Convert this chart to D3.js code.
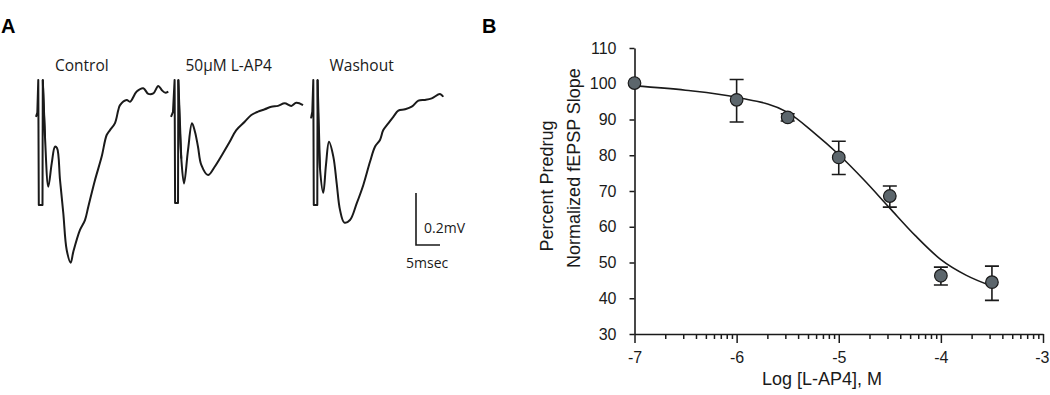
<!DOCTYPE html>
<html>
<head>
<meta charset="utf-8">
<script src="https://cdn.jsdelivr.net/npm/d3@7"></script>
<style>
  body { margin: 0; background: #fff; }
  svg { display: block; }
</style>
</head>
<body>
<div id="chart"></div>
<script>
// ---- panel A: field EPSP traces (time in ms from stimulus, voltage in mV from baseline)
// first 6 points of each trace are the stimulus artifact
var traceNames = ["Control", "50\u03bcM L-AP4", "Washout"];

var tControl = [-0.63, -0.35, -0.15, -0.04, 0.73, 0.79, 1.25, 1.94, 2.65, 3.33, 3.75, 4.38, 5.06, 5.77, 6.60, 7.15, 8.54, 9.58, 10.27, 11.67, 13.06, 14.10, 14.79, 15.83, 16.52, 16.88, 18.27, 18.96, 20.35, 21.73, 22.77, 23.81, 24.85, 25.56, 26.25, 26.94];
var vControl = [-0.007, 0.009, 0.135, -0.346, -0.346, 0.135, -0.085, -0.276, -0.186, -0.122, -0.127, -0.250, -0.377, -0.519, -0.568, -0.526, -0.442, -0.404, -0.353, -0.250, -0.160, -0.077, -0.058, -0.031, 0.019, 0.038, 0.058, 0.051, 0.090, 0.103, 0.081, 0.083, 0.112, 0.096, 0.086, 0.090];

var tDrug = [-0.83, -0.42, -0.08, 0.02, 0.63, 0.69, 1.31, 1.88, 2.71, 3.54, 4.17, 4.79, 5.48, 6.88, 8.27, 10.00, 11.40, 12.77, 14.52, 15.90, 17.29, 18.69, 20.06, 21.46, 22.85, 24.23, 25.27, 26.67];
var vDrug = [-0.007, 0.012, 0.135, -0.338, -0.338, 0.135, -0.167, -0.263, -0.135, -0.032, -0.065, -0.122, -0.192, -0.231, -0.199, -0.147, -0.103, -0.058, -0.026, 0.000, 0.013, 0.022, 0.032, 0.035, 0.045, 0.035, 0.047, 0.038];

var tWash = [-0.52, -0.25, -0.04, 0.06, 0.79, 0.85, 1.35, 2.04, 2.60, 3.23, 4.13, 4.83, 5.52, 6.42, 7.60, 9.00, 10.38, 11.77, 12.81, 13.85, 14.54, 15.58, 16.63, 17.67, 19.06, 20.46, 21.85, 23.23, 24.63, 26.35, 27.04];
var vWash = [-0.013, 0.013, 0.135, -0.346, -0.346, 0.135, -0.205, -0.299, -0.192, -0.103, -0.160, -0.263, -0.365, -0.414, -0.404, -0.340, -0.269, -0.180, -0.122, -0.096, -0.058, -0.032, -0.007, 0.017, 0.022, 0.032, 0.055, 0.058, 0.064, 0.081, 0.070];

var artifactPts = 6;
var scaleBarMV = 0.2;
var scaleBarMs = 5;

// ---- panel B: concentration-response
var logConc = [-7, -6, -5.5, -5, -4.5, -4, -3.5];
var slopePct = [100.2, 95.5, 90.6, 79.4, 68.6, 46.3, 44.5];
var errLow = [100.2, 89.3, 89.6, 74.6, 65.5, 43.7, 39.4];
var errHigh = [100.2, 101.2, 91.6, 83.9, 71.4, 48.7, 49.0];

// fitted curve
var fitLog = [-7, -6.5, -6, -5.5, -5.25, -5, -4.75, -4.5, -4.25, -4, -3.75, -3.5];
var fitPct = [99.4, 98.2, 96.2, 92.0, 86.5, 80.2, 73.0, 65.2, 57.5, 50.8, 46.4, 43.4];

var xTickVals = [-7, -6, -5, -4, -3];
var yTickVals = [30, 40, 50, 60, 70, 80, 90, 100, 110];

var width = 1050, height = 395;

var svg = d3.select("#chart").append("svg")
    .attr("width", width)
    .attr("height", height);

svg.append("rect").attr("width", width).attr("height", height).attr("fill", "#fff");

// panel letters
svg.append("text").attr("x", 1).attr("y", 33)
    .style("font-family", "Liberation Sans, Arial, sans-serif")
    .style("font-weight", "bold").style("font-size", "20px")
    .text("A");
svg.append("text").attr("x", 482).attr("y", 33)
    .style("font-family", "Liberation Sans, Arial, sans-serif")
    .style("font-weight", "bold").style("font-size", "20px")
    .text("B");

// ===== Panel A =====
var tScale = d3.scaleLinear().domain([0, 5]).range([0, 24]);
var vScale = d3.scaleLinear().domain([0, -0.2]).range([0, 52]);

var traces = [
    {name: traceNames[0], t: tControl, v: vControl, x0: 39, labelX: 55},
    {name: traceNames[1], t: tDrug, v: vDrug, x0: 175, labelX: 185.5},
    {name: traceNames[2], t: tWash, v: vWash, x0: 313.5, labelX: 329.5}
];
var baseY = 115;

var artLine = d3.line()
    .x(function(d) { return tScale(d[0]); })
    .y(function(d) { return vScale(d[1]); });
var traceLine = d3.line()
    .x(function(d) { return tScale(d[0]); })
    .y(function(d) { return vScale(d[1]); })
    .curve(d3.curveCatmullRom.alpha(0.5));

traces.forEach(function(tr) {
    var pts = d3.zip(tr.t, tr.v);
    var g = svg.append("g")
        .attr("transform", "translate(" + tr.x0 + "," + baseY + ")")
        .attr("fill", "none")
        .attr("stroke", "#1a1a1a")
        .attr("stroke-width", 2)
        .attr("stroke-linejoin", "round");
    g.append("path").datum(pts.slice(0, artifactPts + 1)).attr("d", artLine);
    g.append("path").datum(pts.slice(artifactPts - 1)).attr("d", traceLine);

    svg.append("text")
        .attr("x", tr.labelX).attr("y", 71)
        .style("font-family", "Open Sans, sans-serif")
        .style("font-size", "15.5px")
        .attr("fill", "#1a1a1a")
        .text(tr.name);
});

// scale bar
var sb = svg.append("g").attr("transform", "translate(416,245)");
sb.append("path")
    .attr("d", "M0," + (-vScale(-scaleBarMV)) + "V0H" + tScale(scaleBarMs))
    .attr("fill", "none").attr("stroke", "#1a1a1a").attr("stroke-width", 1.6);
sb.append("text").attr("x", 8).attr("y", -12)
    .style("font-family", "Open Sans, sans-serif").style("font-size", "14px")
    .attr("fill", "#1a1a1a")
    .text(scaleBarMV + "mV");
sb.append("text").attr("x", -10).attr("y", 23)
    .style("font-family", "Open Sans, sans-serif").style("font-size", "14px")
    .attr("fill", "#1a1a1a")
    .text(scaleBarMs + "msec");

// ===== Panel B =====
var x = d3.scaleLinear().domain([-7, -3]).range([634.5, 1043]);
var y = d3.scaleLinear().domain([30, 110]).range([334, 48]);

var minorTicks = [];
for (var dec = -7; dec < -3; dec++) {
    for (var k = 2; k <= 9; k++) minorTicks.push(dec + Math.log10(k));
}

var plot = svg.append("g")
    .style("font-family", "Liberation Sans, Arial, sans-serif");

// minor x ticks
plot.append("g")
    .attr("transform", "translate(0," + y(30) + ")")
    .call(d3.axisBottom(x).tickValues(minorTicks).tickSize(5).tickFormat(""))
    .call(function(g) { g.select(".domain").remove(); })
    .selectAll("line").attr("stroke", "#1a1a1a").attr("stroke-width", 1.5);

var xAxis = plot.append("g")
    .attr("transform", "translate(0," + y(30) + ")")
    .call(d3.axisBottom(x).tickValues(xTickVals).tickSize(9).tickSizeOuter(0).tickPadding(9)
        .tickFormat(function(d) { return d; }));
xAxis.select(".domain").attr("stroke", "#1a1a1a").attr("stroke-width", 1.6);
xAxis.selectAll("line").attr("stroke", "#1a1a1a").attr("stroke-width", 1.5);
xAxis.selectAll("text").style("font-size", "16px").attr("fill", "#1a1a1a");
// the last label sits against the picture's right edge
xAxis.selectAll(".tick").filter(function(d) { return d === -3; })
    .select("text").attr("text-anchor", "end").attr("x", 6);

var yAxis = plot.append("g")
    .attr("transform", "translate(" + x(-7) + ",0)")
    .call(d3.axisLeft(y).tickValues(yTickVals).tickSize(5).tickSizeOuter(0).tickPadding(13));
yAxis.select(".domain").attr("stroke", "#1a1a1a").attr("stroke-width", 1.6);
yAxis.selectAll("line").attr("stroke", "#1a1a1a").attr("stroke-width", 1.5);
yAxis.selectAll("text").style("font-size", "16px").attr("fill", "#1a1a1a");

// axis titles
plot.append("text")
    .attr("x", 822).attr("y", 385)
    .attr("text-anchor", "middle")
    .style("font-size", "18px").attr("fill", "#1a1a1a")
    .text("Log [L-AP4], M");
plot.append("text")
    .attr("transform", "translate(553,186) rotate(-90)")
    .attr("text-anchor", "middle")
    .style("font-size", "18px").attr("fill", "#1a1a1a")
    .text("Percent Predrug");
plot.append("text")
    .attr("transform", "translate(580,168) rotate(-90)")
    .attr("text-anchor", "middle")
    .style("font-size", "18px").attr("fill", "#1a1a1a")
    .text("Normalized fEPSP Slope");

// fit curve
plot.append("path")
    .datum(d3.zip(fitLog, fitPct))
    .attr("d", d3.line()
        .x(function(d) { return x(d[0]); })
        .y(function(d) { return y(d[1]); })
        .curve(d3.curveMonotoneX))
    .attr("fill", "none")
    .attr("stroke", "#1a1a1a")
    .attr("stroke-width", 1.6);

// error bars
var pts = logConc.map(function(c, i) {
    return {c: c, v: slopePct[i], lo: errLow[i], hi: errHigh[i]};
});
var capW = 7;
var eb = plot.append("g").attr("stroke", "#1a1a1a").attr("stroke-width", 1.6).attr("fill", "none");
pts.forEach(function(d) {
    if (d.hi - d.lo < 0.5) return;
    eb.append("path")
        .attr("d", "M" + (x(d.c) - capW) + "," + y(d.hi) + "H" + (x(d.c) + capW) +
                   "M" + x(d.c) + "," + y(d.hi) + "V" + y(d.lo) +
                   "M" + (x(d.c) - capW) + "," + y(d.lo) + "H" + (x(d.c) + capW));
});

// points
plot.append("g").selectAll("circle")
    .data(pts)
    .enter()
    .append("circle")
    .attr("cx", function(d) { return x(d.c); })
    .attr("cy", function(d) { return y(d.v); })
    .attr("r", 6.3)
    .attr("fill", "#5c666c")
    .attr("stroke", "#1a1a1a")
    .attr("stroke-width", 1.2);
</script>
</body>
</html>
